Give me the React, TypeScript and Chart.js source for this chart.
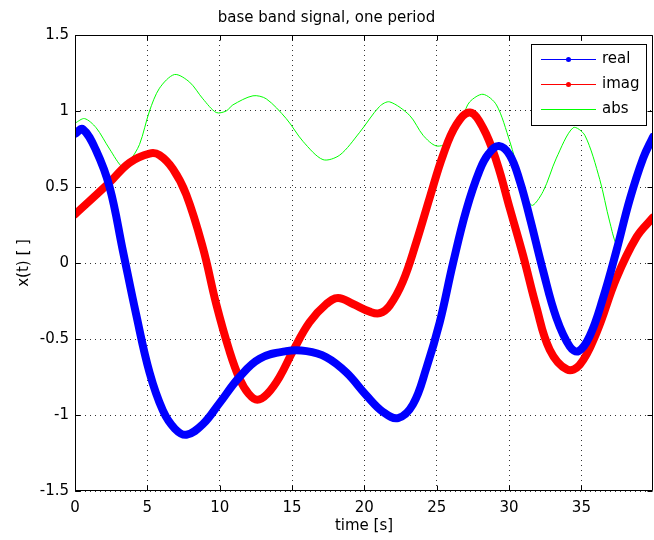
import React, { useEffect, useRef } from "react";
import { Chart, registerables } from "chart.js";

Chart.register(...registerables);

const titleText = "base band signal, one period";
const xLabel = "time [s]";
const yLabel = "x(t) [ ]";
const seriesLabels = ["real", "imag", "abs"];
const xTicks = [0, 5, 10, 15, 20, 25, 30, 35];
const yTicks = [-1.5, -1, -0.5, 0, 0.5, 1, 1.5];

const realT = [0, 0.54, 1.46, 2.39, 3.31, 4.23, 5.15, 6.07, 6.9, 7.7, 8.84, 10.0, 11.37, 12.76, 14.6, 16.0, 17.37, 18.75, 20.13, 21.29, 22.33, 23.36, 24.29, 25.21, 26.13, 27.05, 27.97, 28.6, 29.3, 30.05, 30.74, 31.43, 32.35, 33.27, 34.2, 34.8, 35.58, 36.5, 37.42, 38.35, 39.27, 39.95];
const realV = [0.85, 0.88, 0.74, 0.5, 0.08, -0.34, -0.72, -0.97, -1.09, -1.13, -1.06, -0.92, -0.75, -0.63, -0.58, -0.58, -0.62, -0.72, -0.87, -0.98, -1.02, -0.93, -0.69, -0.39, 0.0, 0.35, 0.61, 0.72, 0.77, 0.71, 0.54, 0.3, -0.05, -0.36, -0.55, -0.58, -0.48, -0.23, 0.08, 0.42, 0.69, 0.83];

const imagT = [0, 2.39, 3.77, 5.15, 5.84, 6.76, 7.69, 8.84, 9.76, 10.68, 11.37, 12.0, 12.6, 13.3, 14.14, 15.06, 16.21, 17.37, 18.18, 19.22, 20.37, 21.06, 21.75, 22.67, 23.6, 24.52, 25.44, 26.36, 27.3, 28.2, 29.13, 30.05, 30.97, 31.89, 32.81, 34.0, 34.89, 36.04, 37.42, 38.81, 39.95];
const imagV = [0.32, 0.53, 0.66, 0.72, 0.71, 0.62, 0.45, 0.1, -0.27, -0.58, -0.76, -0.86, -0.9, -0.86, -0.75, -0.58, -0.39, -0.27, -0.23, -0.27, -0.32, -0.33, -0.28, -0.12, 0.14, 0.43, 0.71, 0.91, 0.99, 0.89, 0.67, 0.36, 0.05, -0.29, -0.57, -0.7, -0.67, -0.46, -0.1, 0.17, 0.3];

const absT = [0, 0.66, 1.46, 2.39, 3.3, 3.77, 4.46, 5.15, 5.84, 6.88, 7.92, 8.84, 9.76, 10.45, 10.91, 12.3, 13.22, 14.6, 15.76, 17.14, 18.3, 19.68, 21.05, 21.75, 23.14, 24.06, 24.98, 25.9, 26.82, 27.28, 28.2, 29.13, 30.05, 30.74, 31.55, 32.35, 33.27, 34.43, 35.24, 36.27, 36.96, 37.46, 38.35, 39.27, 39.95];
const absV = [0.92, 0.95, 0.89, 0.75, 0.63, 0.67, 0.78, 1.0, 1.15, 1.24, 1.19, 1.08, 0.99, 1.0, 1.04, 1.1, 1.08, 0.95, 0.8, 0.68, 0.71, 0.86, 1.03, 1.06, 0.97, 0.84, 0.77, 0.8, 0.97, 1.06, 1.11, 1.04, 0.8, 0.58, 0.38, 0.47, 0.69, 0.89, 0.84, 0.55, 0.27, 0.13, 0.43, 0.71, 0.86];

const FONT = "'DejaVu Sans', 'Liberation Sans', sans-serif";

const toPoints = (ts: number[], vs: number[]) => ts.map((t, i) => ({ x: t, y: vs[i] }));

const framePlugin = {
  id: "frame",
  afterDatasetsDraw(chart: any) {
    const { ctx, chartArea, scales } = chart;
    const { left, right, top, bottom } = chartArea;
    const L = Math.round(left) + 0.5;
    const R = Math.round(right) - 0.5;
    const T = Math.round(top) + 0.5;
    const B = Math.round(bottom) - 0.5;
    ctx.save();
    ctx.strokeStyle = "#000";
    ctx.lineWidth = 1;
    ctx.setLineDash([]);
    ctx.beginPath();
    ctx.rect(L, T, R - L, B - T);
    const tl = 5;
    xTicks.forEach((v) => {
      const px = Math.round(scales.x.getPixelForValue(v)) + 0.5;
      ctx.moveTo(px, B);
      ctx.lineTo(px, B - tl);
      ctx.moveTo(px, T);
      ctx.lineTo(px, T + tl);
    });
    yTicks.forEach((v) => {
      const py = Math.round(scales.y.getPixelForValue(v)) + 0.5;
      ctx.moveTo(L, py);
      ctx.lineTo(L + tl, py);
      ctx.moveTo(R, py);
      ctx.lineTo(R - tl, py);
    });
    ctx.stroke();
    ctx.restore();
  },
};

const legendPlugin = {
  id: "boxLegend",
  afterDraw(chart: any) {
    const { ctx, chartArea } = chart;
    const w = 115;
    const h = 81;
    const x0 = Math.round(chartArea.right - 7 - w);
    const y0 = Math.round(chartArea.top + 9);
    ctx.save();
    ctx.fillStyle = "#fff";
    ctx.fillRect(x0, y0, w, h);
    ctx.strokeStyle = "#000";
    ctx.lineWidth = 1;
    ctx.strokeRect(x0 + 0.5, y0 + 0.5, w, h);
    ctx.font = "15px " + FONT;
    ctx.textBaseline = "middle";
    ctx.textAlign = "left";
    chart.data.datasets.forEach((ds: any, i: number) => {
      const y = y0 + 15 + i * 25 + 0.5;
      ctx.strokeStyle = ds.borderColor;
      ctx.lineWidth = 1.2;
      ctx.beginPath();
      ctx.moveTo(x0 + 10, y);
      ctx.lineTo(x0 + 65, y);
      ctx.stroke();
      if (ds.legendDot) {
        ctx.fillStyle = ds.borderColor;
        ctx.beginPath();
        ctx.arc(x0 + 37.5, y, 2.5, 0, Math.PI * 2);
        ctx.fill();
      }
      ctx.fillStyle = "#000";
      ctx.fillText(ds.label, x0 + 71, y0 + 15 + i * 25);
    });
    ctx.restore();
  },
};

export default function App() {
  const ref = useRef<HTMLCanvasElement | null>(null);
  useEffect(() => {
    if (!ref.current) return;
    const chart = new Chart(ref.current, {
      type: "line",
      data: {
        datasets: [
          {
            label: seriesLabels[0],
            data: toPoints(realT, realV),
            borderColor: "#0000ff",
            backgroundColor: "#0000ff",
            borderWidth: 8,
            pointRadius: 0,
            tension: 0.4,
            borderCapStyle: "round",
            borderJoinStyle: "round",
            legendDot: true,
          } as any,
          {
            label: seriesLabels[1],
            data: toPoints(imagT, imagV),
            borderColor: "#ff0000",
            backgroundColor: "#ff0000",
            borderWidth: 8,
            pointRadius: 0,
            tension: 0.4,
            borderCapStyle: "round",
            borderJoinStyle: "round",
            legendDot: true,
          } as any,
          {
            label: seriesLabels[2],
            data: toPoints(absT, absV),
            borderColor: "#00ff00",
            backgroundColor: "#00ff00",
            borderWidth: 1,
            pointRadius: 0,
            tension: 0.3,
            legendDot: false,
          } as any,
        ],
      },
      options: {
        animation: false,
        responsive: false,
        maintainAspectRatio: false,
        layout: { padding: { left: 0, right: 1, top: 0, bottom: 0 } },
        plugins: {
          legend: { display: false },
          tooltip: { enabled: false },
          title: {
            display: true,
            text: titleText,
            color: "#000",
            font: { family: FONT, size: 15, weight: "normal", lineHeight: 1.2 },
            padding: { top: 9, bottom: 8 },
          },
        },
        scales: {
          x: {
            type: "linear",
            min: 0,
            max: 39.95,
            afterBuildTicks: (s: any) => {
              s.ticks = xTicks.map((v) => ({ value: v }));
            },
            afterFit: (s: any) => {
              s.height = 49;
            },
            ticks: {
              color: "#000",
              font: { family: FONT, size: 15 },
              padding: 8,
              maxRotation: 0,
              autoSkip: false,
              callback: (v: any) => String(v),
            },
            grid: { color: "#333", lineWidth: 1, drawTicks: false },
            border: { display: false, dash: [1, 4] },
            title: {
              display: true,
              text: xLabel,
              color: "#000",
              font: { family: FONT, size: 15, lineHeight: 1.2 },
              padding: { top: 0, bottom: 5 },
            },
          },
          y: {
            type: "linear",
            min: -1.5,
            max: 1.5,
            afterBuildTicks: (s: any) => {
              s.ticks = yTicks.map((v) => ({ value: v }));
            },
            afterFit: (s: any) => {
              s.width = 75;
            },
            ticks: {
              color: "#000",
              font: { family: FONT, size: 15 },
              padding: 6,
              autoSkip: false,
              callback: (v: any) => String(v),
            },
            grid: { color: "#333", lineWidth: 1, drawTicks: false },
            border: { display: false, dash: [1, 4] },
            title: {
              display: true,
              text: yLabel,
              color: "#000",
              font: { family: FONT, size: 15, lineHeight: 1.2 },
              padding: { top: 15, bottom: 0 },
            },
          },
        },
      },
      plugins: [framePlugin, legendPlugin],
    });
    return () => chart.destroy();
  }, []);
  return (
    <div style={{ position: "absolute", left: 0, top: 0, width: 654, height: 540, background: "#fff" }}>
      <canvas ref={ref} width={654} height={540} style={{ width: 654, height: 540, display: "block" }} />
    </div>
  );
}
